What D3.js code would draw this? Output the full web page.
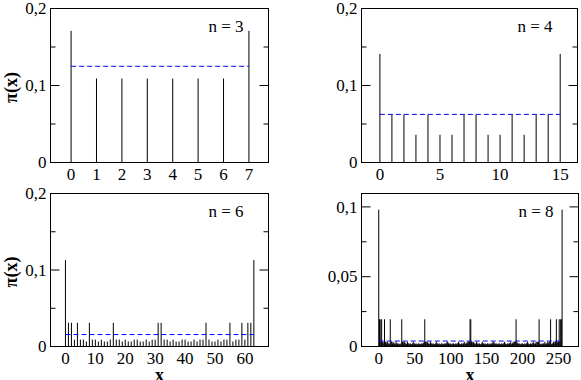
<!DOCTYPE html>
<html>
<head>
<meta charset="utf-8">
<script src="https://cdn.jsdelivr.net/npm/d3@7"></script>
</head>
<body style="margin:0">
<script>
// stationary distribution pi(x)
var n3Values = [0.171, 0.109, 0.109, 0.109, 0.109, 0.109, 0.109, 0.171];
var n4Values = [0.141, 0.062, 0.062, 0.036, 0.062, 0.036, 0.036, 0.062,
                0.062, 0.036, 0.036, 0.062, 0.036, 0.062, 0.062, 0.141];
// for n = 6 and n = 8 the value only depends on the number of 1 bits of x
var n6ByWeight = [0.113, 0.031, 0.009, 0.0065, 0.009, 0.031, 0.113];
var n8ByWeight = [0.098, 0.0195, 0.0034, 0.0022, 0.0016, 0.0022, 0.0034, 0.0195, 0.098];

var n3Ticks = [0, 1, 2, 3, 4, 5, 6, 7];
var n4Ticks = [0, 5, 10, 15];
var n6Ticks = [0, 10, 20, 30, 40, 50, 60];
var n8Ticks = [0, 50, 100, 150, 200, 250];
var yTicksA = [0, 0.1, 0.2], yMinorA = [0.05, 0.15];
var yTicksB = [0, 0.05, 0.1], yMinorB = [0.025, 0.075];

function bits(x){ var c = 0; while(x){ c += x & 1; x >>= 1; } return c; }
function byWeight(n, w){ return d3.range(1 << n).map(function(x){ return w[bits(x)]; }); }

var panels = [
	{n:3, vals:n3Values, xd:[-0.81, 7.77], yd:[0, 0.2], xt:n3Ticks, yt:yTicksA, ym:yMinorA,
	 box:[50.5, 8.5, 268.5, 162.5], ylab:true, xlab:false},
	{n:4, vals:n4Values, xd:[-1.53, 16.44], yd:[0, 0.2], xt:n4Ticks, yt:yTicksA, ym:yMinorA,
	 box:[361.5, 8.5, 577.5, 162.5], ylab:false, xlab:false},
	{n:6, vals:byWeight(6, n6ByWeight), xd:[-5, 67.9], yd:[0, 0.2], xt:n6Ticks, yt:yTicksA, ym:yMinorA,
	 box:[50.5, 193.5, 268.5, 346.5], ylab:true, xlab:true},
	{n:8, vals:byWeight(8, n8ByWeight), xd:[-24, 277.8], yd:[0, 0.1096], xt:n8Ticks, yt:yTicksB, ym:yMinorB,
	 box:[361.5, 193.5, 578.5, 346.5], ylab:false, xlab:true}
];

var fmt = function(d){ return String(d).replace(".", ","); };
var FONT = "Liberation Serif";

var svg = d3.select("body").append("svg").attr("width", 581).attr("height", 380);

panels.forEach(function(p){
	var x0 = p.box[0], y0 = p.box[1], x1 = p.box[2], y1 = p.box[3];
	var x = d3.scaleLinear().domain(p.xd).range([x0, x1]);
	var y = d3.scaleLinear().domain(p.yd).range([y1, y0]);
	var g = svg.append("g");

	// stems
	g.selectAll(".stem").data(p.vals).enter().append("line").attr("class","stem")
		.attr("x1", function(d,i){ return x(i); }).attr("x2", function(d,i){ return x(i); })
		.attr("y1", y(0)).attr("y2", function(d){ return y(d); })
		.attr("stroke", "#000").attr("stroke-width", 1);

	// uniform level 1/2^n
	var N = p.vals.length;
	g.append("line")
		.attr("x1", x(0)).attr("x2", x(N - 1))
		.attr("y1", y(1 / N)).attr("y2", y(1 / N))
		.attr("stroke", "#0000ff").attr("stroke-width", 1).attr("stroke-dasharray", "5,3");

	// frame
	g.append("rect").attr("x", x0).attr("y", y0).attr("width", x1 - x0).attr("height", y1 - y0)
		.attr("fill", "none").attr("stroke", "#000").attr("stroke-width", 1);

	// y ticks inward on both sides
	p.yt.concat(p.ym).forEach(function(v){
		var len = p.yt.indexOf(v) >= 0 ? 9 : 5;
		g.append("line").attr("x1", x0).attr("x2", x0 + len).attr("y1", y(v)).attr("y2", y(v))
			.attr("stroke", "#000");
		g.append("line").attr("x1", x1).attr("x2", x1 - len).attr("y1", y(v)).attr("y2", y(v))
			.attr("stroke", "#000");
	});

	g.selectAll(".yl").data(p.yt).enter().append("text").attr("class","yl")
		.attr("font-family", FONT).attr("font-size", 17)
		.attr("x", x0 - 4).attr("y", function(d){ return y(d); }).attr("dy", "0.33em")
		.attr("text-anchor", "end").text(fmt);

	g.selectAll(".xl").data(p.xt).enter().append("text").attr("class","xl")
		.attr("font-family", FONT).attr("font-size", 17)
		.attr("x", function(d){ return x(d); }).attr("y", y1 + 17.5)
		.attr("text-anchor", "middle").text(fmt);

	g.append("text").attr("font-family", FONT).attr("font-size", 17)
		.attr("x", x1 - 25).attr("y", y0 + 23)
		.attr("text-anchor", "end").text("n = " + p.n);

	if(p.ylab){
		g.append("text").attr("font-family", FONT).attr("font-size", 18).attr("font-weight", "bold")
			.attr("transform", "translate(17," + ((y0 + y1) / 2 + 2) + ") rotate(-90)")
			.attr("text-anchor", "middle")
			.text("π(x)");
	}
	if(p.xlab){
		g.append("text").attr("font-family", FONT).attr("font-size", 18).attr("font-weight", "bold")
			.attr("x", (x0 + x1) / 2).attr("y", 381)
			.attr("text-anchor", "middle")
			.text("x");
	}
});
</script>
</body>
</html>
